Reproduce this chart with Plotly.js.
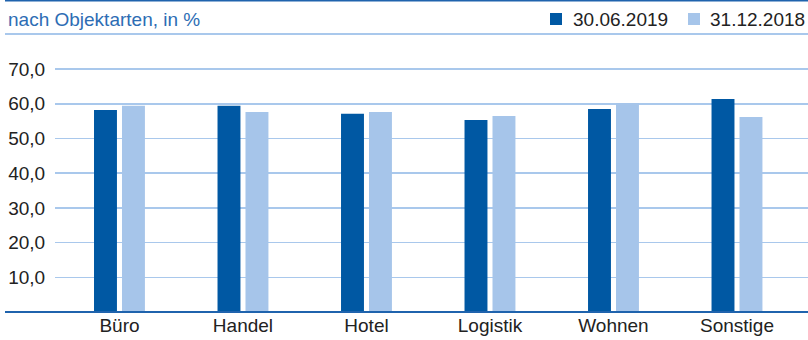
<!DOCTYPE html>
<html>
<head>
<meta charset="utf-8">
<script src="https://cdn.plot.ly/plotly-3.0.1.min.js"></script>
<style>html,body{margin:0;padding:0;background:#fff;}#chart{width:808px;height:340px;}</style>
</head>
<body>
<div id="chart"></div>
<script>
const categories = ["Büro", "Handel", "Hotel", "Logistik", "Wohnen", "Sonstige"];
const series2019 = [58.2, 59.4, 57.1, 55.3, 58.5, 61.4];
const series2018 = [59.4, 57.6, 57.6, 56.5, 60.2, 56.2];
const seriesNames = ["30.06.2019", "31.12.2018"];
const yTicks = [10, 20, 30, 40, 50, 60, 70];

const darkBlue = "#0058a3";
const lightBlue = "#a6c5ea";
const font = "Liberation Sans, Arial, sans-serif";
const fs = 19;

const traces = [
  {type: "bar", x: categories, y: series2019, name: seriesNames[0], marker: {color: darkBlue}, hoverinfo: "none"},
  {type: "bar", x: categories, y: series2018, name: seriesNames[1], marker: {color: lightBlue}, hoverinfo: "none"}
];

const plotW = 753, plotH = 257, leftM = 55, bottomPx = 312;
const px = x => (x - leftM) / plotW;          // page x -> paper x
const py = y => (bottomPx - y) / plotH;       // page y -> paper y

const legendSquares = [550, 688];
const legendTexts = [571, 708];

const shapes = [
  {type: "line", xref: "paper", yref: "paper", x0: px(5), x1: 1, y0: py(0.5), y1: py(0.5), line: {color: "#1f63ad", width: 2}},
  {type: "line", xref: "paper", yref: "paper", x0: px(5), x1: 1, y0: py(34), y1: py(34), line: {color: "#a9c8ec", width: 2}},
  {type: "line", xref: "paper", yref: "paper", x0: px(5), x1: 1, y0: 0, y1: 0, line: {color: "#1f63ad", width: 2}}
];
const annotations = [
  {text: "nach Objektarten, in %", xref: "paper", yref: "paper", x: px(6), y: py(19), xanchor: "left", yanchor: "middle",
   showarrow: false, font: {family: font, size: fs, color: "#2d6db4"}}
];
[darkBlue, lightBlue].forEach((c, i) => {
  shapes.push({type: "rect", xref: "paper", yref: "paper", x0: px(legendSquares[i]), x1: px(legendSquares[i] + 12),
               y0: py(13), y1: py(25), fillcolor: c, line: {width: 0}});
  annotations.push({text: seriesNames[i], xref: "paper", yref: "paper", x: px(legendTexts[i]), y: py(19),
                    xanchor: "left", yanchor: "middle", showarrow: false, font: {family: font, size: fs, color: "#222"}});
});

const layout = {
  width: 808, height: 340,
  margin: {l: leftM, r: 0, t: 55, b: 28, pad: 0, autoexpand: false},
  paper_bgcolor: "#fff", plot_bgcolor: "#fff",
  barmode: "group", bargap: 0.547, bargroupgap: 0.18,
  separators: ",.",
  font: {family: font, size: fs, color: "#222"},
  showlegend: false,
  xaxis: {range: [-0.522, 5.575], showgrid: false, zeroline: false, showline: false, ticks: "",
          tickfont: {family: font, size: fs, color: "#222"}, fixedrange: true},
  yaxis: {range: [0, 74.06], tickvals: yTicks, tickformat: ".1f", showgrid: true, gridcolor: "#a9c8ec", gridwidth: 1.5,
          zeroline: false, showline: false, ticks: "outside", ticklen: 5, tickcolor: "rgba(0,0,0,0)",
          tickfont: {family: font, size: fs, color: "#222"}, fixedrange: true},
  shapes: shapes,
  annotations: annotations
};

Plotly.newPlot("chart", traces, layout, {displayModeBar: false, staticPlot: true});
</script>
</body>
</html>
